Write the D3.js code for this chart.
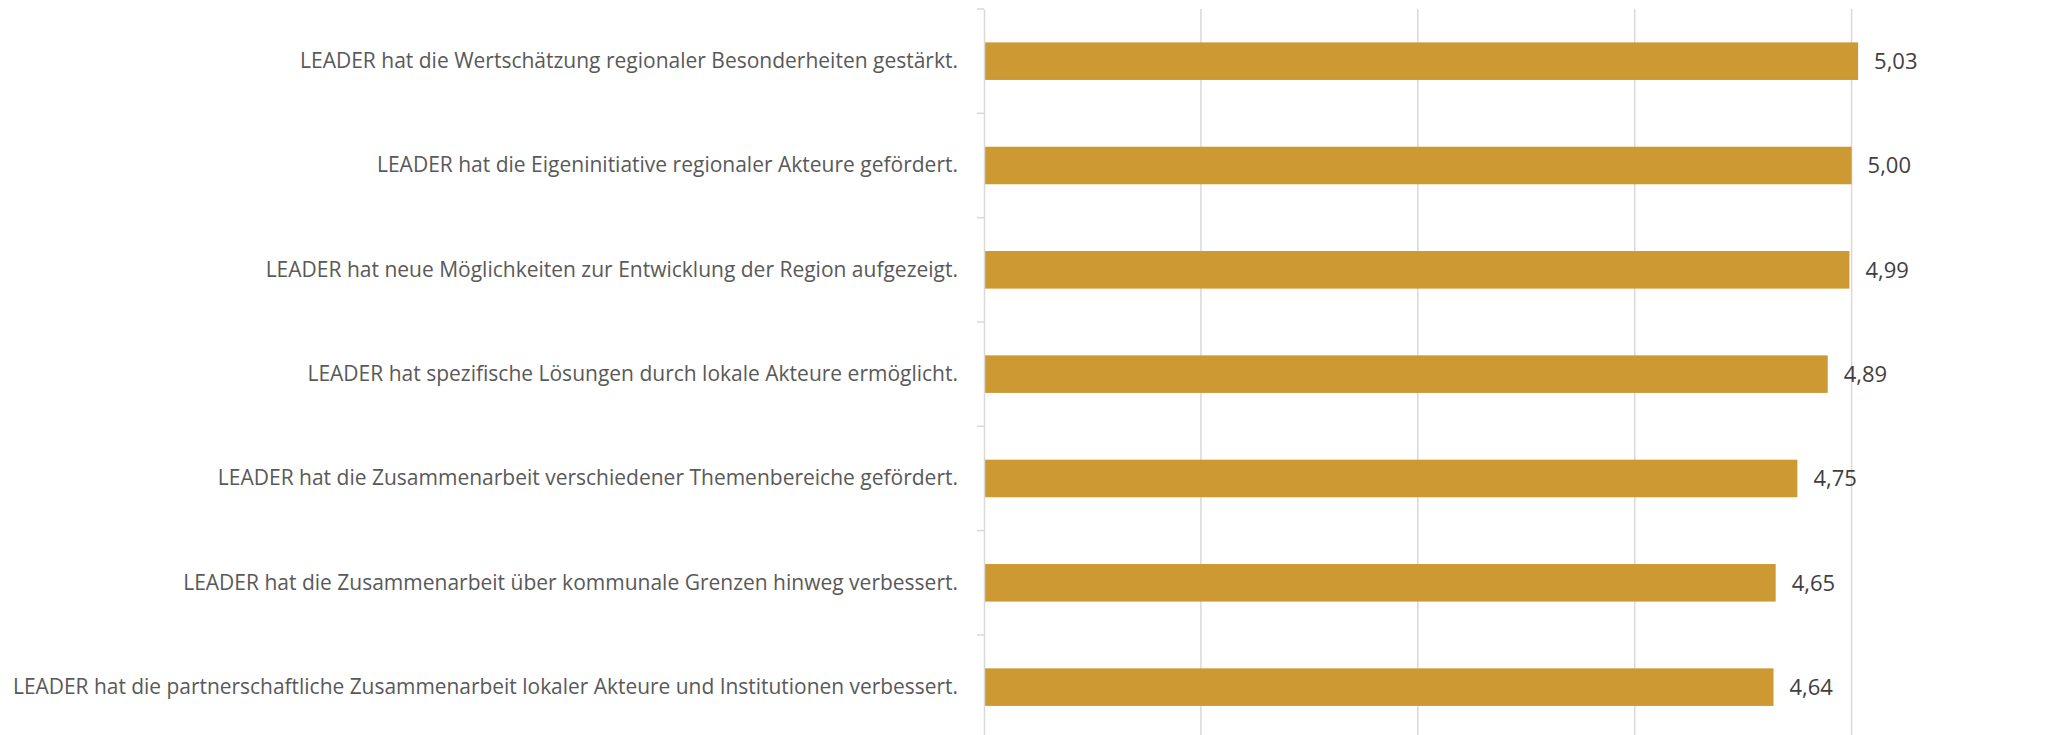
<!DOCTYPE html>
<html><head><meta charset="utf-8">
<script src="https://cdn.jsdelivr.net/npm/d3@7"></script>
<style>html,body{margin:0;padding:0;background:#fff;overflow:hidden}</style>
</head><body>
<svg id="c" width="2064" height="735"></svg>
<script>
const categories = [
  "LEADER hat die Wertschätzung regionaler Besonderheiten gestärkt.",
  "LEADER hat die Eigeninitiative regionaler Akteure gefördert.",
  "LEADER hat neue Möglichkeiten zur Entwicklung der Region aufgezeigt.",
  "LEADER hat spezifische Lösungen durch lokale Akteure ermöglicht.",
  "LEADER hat die Zusammenarbeit verschiedener Themenbereiche gefördert.",
  "LEADER hat die Zusammenarbeit über kommunale Grenzen hinweg verbessert.",
  "LEADER hat die partnerschaftliche Zusammenarbeit lokaler Akteure und Institutionen verbessert."
];
const values = [5.03, 5.00, 4.99, 4.89, 4.75, 4.65, 4.64];
const xTicks = [1, 2, 3, 4, 5, 6];

const svg = d3.select("#c");
const left = 984, unit = 216.9;
const x = d3.scaleLinear().domain([1, 6]).range([left, left + 5 * unit]);
const y = d3.scaleBand().domain(categories).range([9, 739.3]).padding(0);
const step = y.step();
const fmt = v => d3.format(".2f")(v).replace(".", ",");

// gridlines
svg.append("g").selectAll("line").data(xTicks.filter(t => t > 1)).join("line")
  .attr("x1", d => x(d)).attr("x2", d => x(d))
  .attr("y1", 9).attr("y2", 740)
  .attr("stroke", "#d9d9d9").attr("stroke-width", 1.5);

// bars
svg.append("g").selectAll("rect").data(values).join("rect")
  .attr("x", x(1))
  .attr("y", (d, i) => y(categories[i]) + step * 0.32)
  .attr("width", d => x(d) - x(1))
  .attr("height", step * 0.36)
  .attr("fill", "#cc9933");

// category axis
const yAxis = d3.axisLeft(y).tickSize(0).tickPadding(26);
const ga = svg.append("g").attr("transform", `translate(${left},0)`).call(yAxis);
ga.select(".domain").attr("stroke", "#d9d9d9").attr("stroke-width", 1.5);
ga.selectAll("text").attr("font-family", "'Open Sans', sans-serif")
  .attr("font-size", 21).attr("fill", "#595959");
// tick marks at band boundaries
const bounds = categories.map(c => y(c)).concat([y(categories[categories.length-1]) + step]);
svg.append("g").selectAll("line").data(bounds).join("line")
  .attr("x1", left - 7).attr("x2", left).attr("y1", d => d).attr("y2", d => d)
  .attr("stroke", "#d9d9d9").attr("stroke-width", 1.5);

// compress labels so the longest fits
let maxW = 0;
ga.selectAll("text").each(function(){ maxW = Math.max(maxW, this.getComputedTextLength()); });
const targetW = 945;
if (maxW > targetW) {
  ga.selectAll("text").each(function(){
    const w = this.getComputedTextLength();
    if (w > targetW) {
      this.setAttribute("textLength", targetW);
      this.setAttribute("lengthAdjust", "spacingAndGlyphs");
    }
  });
}

// value labels
svg.append("g").selectAll("text").data(values).join("text")
  .attr("x", d => x(d) + 16)
  .attr("y", (d, i) => y(categories[i]) + step / 2)
  .attr("dy", "0.35em")
  .attr("font-family", "'Open Sans', sans-serif")
  .attr("font-size", 22).attr("fill", "#404040")
  .text(fmt);
</script>
</body></html>
